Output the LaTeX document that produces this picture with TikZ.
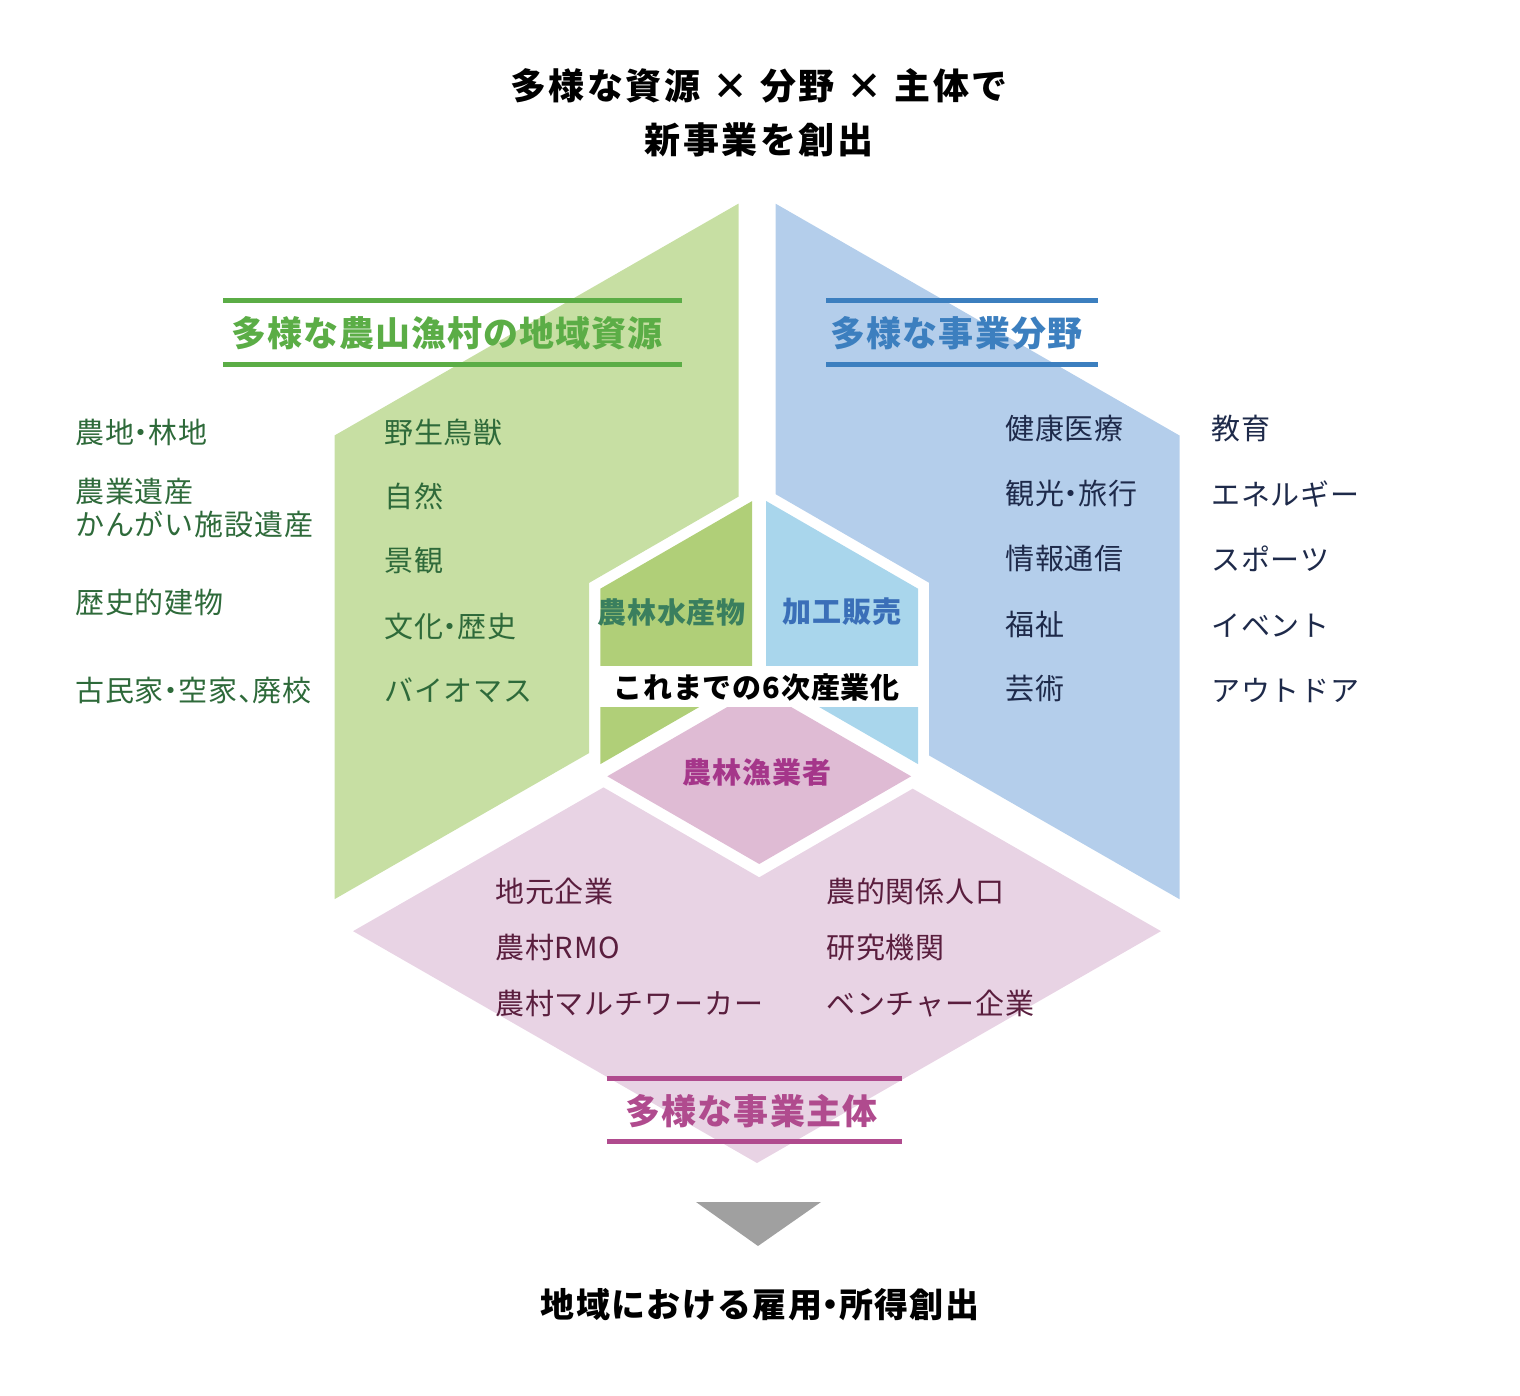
\documentclass[tikz,border=0pt]{standalone}
\usepackage{fontspec}
\setmainfont{Noto Sans CJK JP}
\newfontfamily\ttlfont[LetterSpace=7]{Noto Sans CJK JP}
\newfontfamily\headfont[LetterSpace=3]{Noto Sans CJK JP}
\newfontfamily\resfont[LetterSpace=4]{Noto Sans CJK JP}
\newfontfamily\infont[LetterSpace=3]{Noto Sans CJK JP}
\newfontfamily\lblfont[LetterSpace=3]{Noto Sans CJK JP}
\newcommand{\mynk}{\kern-.25em・\kern-.25em}
\newcommand{\mytn}{、\kern-.5em}
\newcommand{\mytimes}{\hspace{12pt}×\hspace{12pt}}
\definecolor{gOut}{HTML}{C7DFA3}
\definecolor{gIn}{HTML}{B0CF78}
\definecolor{bOut}{HTML}{B4CEEB}
\definecolor{bIn}{HTML}{A9D6EC}
\definecolor{pOut}{HTML}{E8D3E4}
\definecolor{pIn}{HTML}{DFBBD4}
\definecolor{gHead}{HTML}{5BAD46}
\definecolor{bHead}{HTML}{3C7FBF}
\definecolor{pHead}{HTML}{B04B8E}
\definecolor{gTxt}{HTML}{2E6A3A}
\definecolor{bTxt}{HTML}{1E2A4A}
\definecolor{pTxt}{HTML}{5A1E3E}
\definecolor{gInTxt}{HTML}{3A7F5E}
\definecolor{bInTxt}{HTML}{3A6FB8}
\definecolor{pInTxt}{HTML}{A5368A}
\definecolor{arrowGray}{HTML}{A0A0A0}
\tikzset{
  lbl/.style={inner sep=0pt, anchor=west, text height=25.5pt, text depth=3.5pt,
    font=\lblfont\fontsize{29}{33}\selectfont},
  glbl/.style={lbl, text=gTxt},
  blbl/.style={lbl, text=bTxt},
  plbl/.style={lbl, text=pTxt},
  head/.style={inner sep=0pt, text height=30.8pt, text depth=4.2pt,
    font=\headfont\bfseries\fontsize{35}{38}\selectfont},
  ttl/.style={inner sep=0pt, text height=31.7pt, text depth=4.3pt,
    font=\ttlfont\bfseries\fontsize{36}{40}\selectfont},
  restxt/.style={inner sep=0pt, text height=29.9pt, text depth=4.1pt,
    font=\resfont\bfseries\fontsize{34}{38}\selectfont},
  inlbl/.style={inner sep=0pt, text height=25.5pt, text depth=3.5pt,
    font=\infont\bfseries\fontsize{29}{33}\selectfont},
  headline/.style={line width=5pt},
}
\begin{document}
\begin{tikzpicture}[x=1pt,y=-1pt]
\useasboundingbox (0,0) rectangle (1520,1396);
% outer pieces
\fill[gOut] (738.5,203.62) -- (334.5,435.5) -- (334.5,899.2) -- (589.2,753.0)
  -- (589.2,582.85) -- (738.5,496.65) -- cycle;
\fill[bOut] (775.5,203.62) -- (1179.5,435.5) -- (1179.5,899.2) -- (929.2,755.54)
  -- (929.2,582.85) -- (775.5,494.11) -- cycle;
\fill[pOut] (353.05,931.15) -- (757,1163) -- (1160.95,931.15) -- (912.7,788.67)
  -- (759.2,877.3) -- (603.5,787.4) -- cycle;
% inner pieces
\fill[gIn] (752.2,501.04) -- (600.28,588.75) -- (600.28,764.17) -- (752.2,676.46) -- cycle;
\fill[bIn] (766.2,501.04) -- (918.12,588.75) -- (918.12,764.17) -- (766.2,676.46) -- cycle;
\fill[pIn] (759.2,688.58) -- (607.28,776.3) -- (759.2,864) -- (911.12,776.3) -- cycle;
% label band
\fill[white] (595,666) rectangle (924,707);
% heading lines
\draw[headline, gHead] (223,300.8) -- (681.7,300.8);
\draw[headline, gHead] (223,364.2) -- (681.7,364.2);
\draw[headline, bHead] (826,300.8) -- (1098.3,300.8);
\draw[headline, bHead] (826,364.2) -- (1098.3,364.2);
\draw[headline, pHead] (607,1078.5) -- (902,1078.5);
\draw[headline, pHead] (607,1141) -- (902,1141);
% arrow
\fill[arrowGray] (696,1202) -- (821,1202) -- (758,1246) -- cycle;
% titles
\node[ttl] (t1) at (759,86) {多様な資源\mytimes 分野\mytimes 主体で};
\node[ttl] (t2) at (759,140) {新事業を創出};
\node[restxt] (res) at (760,1305) {地域における雇用\mynk 所得創出};
% headings
\node[head, text=gHead] (hg) at (447,333) {多様な農山漁村の地域資源};
\node[head, text=bHead] (hb) at (956.5,333) {多様な事業分野};
\node[head, text=pHead] (hp) at (751.5,1111) {多様な事業主体};
% inner labels
\node[inlbl, text=gInTxt] (ig) at (671.5,612) {農林水産物};
\node[inlbl, text=bInTxt] (ib) at (842,611) {加工販売};
\node[inlbl, text=black] (i6) at (756.5,687) {これまでの6次産業化};
\node[inlbl, text=pInTxt] (ip) at (757,772) {農林漁業者};
% green labels
\node[glbl] (g1) at (75,432) {農地\mynk 林地};
\node[glbl] (g2) at (75,491) {農業遺産};
\node[glbl] (g3) at (75,524) {かんがい施設遺産};
\node[glbl] (g4) at (75,602) {歴史的建物};
\node[glbl] (g5) at (75,690) {古民家\mynk 空家\mytn 廃校};
\node[glbl] (g6) at (384,432) {野生鳥獣};
\node[glbl] (g7) at (384,496) {自然};
\node[glbl] (g8) at (384,560) {景観};
\node[glbl] (g9) at (384,626) {文化\mynk 歴史};
\node[glbl] (g10) at (384,690) {バイオマス};
% blue labels
\node[blbl] (b1) at (1005,428) {健康医療};
\node[blbl] (b2) at (1005,493) {観光\mynk 旅行};
\node[blbl] (b3) at (1005,558) {情報通信};
\node[blbl] (b4) at (1005,624) {福祉};
\node[blbl] (b5) at (1005,688) {芸術};
\node[blbl] (b6) at (1211,428) {教育};
\node[blbl] (b7) at (1211,494) {エネルギー};
\node[blbl] (b8) at (1211,559) {スポーツ};
\node[blbl] (b9) at (1211,625) {イベント};
\node[blbl] (b10) at (1211,690) {アウトドア};
% pink labels
\node[plbl] (p1) at (495,891) {地元企業};
\node[plbl] (p2) at (495,947) {農村RMO};
\node[plbl] (p3) at (495,1003) {農村マルチワーカー};
\node[plbl] (p4) at (826,891) {農的関係人口};
\node[plbl] (p5) at (826,947) {研究機関};
\node[plbl] (p6) at (826,1003) {ベンチャー企業};
\end{tikzpicture}
\end{document}
